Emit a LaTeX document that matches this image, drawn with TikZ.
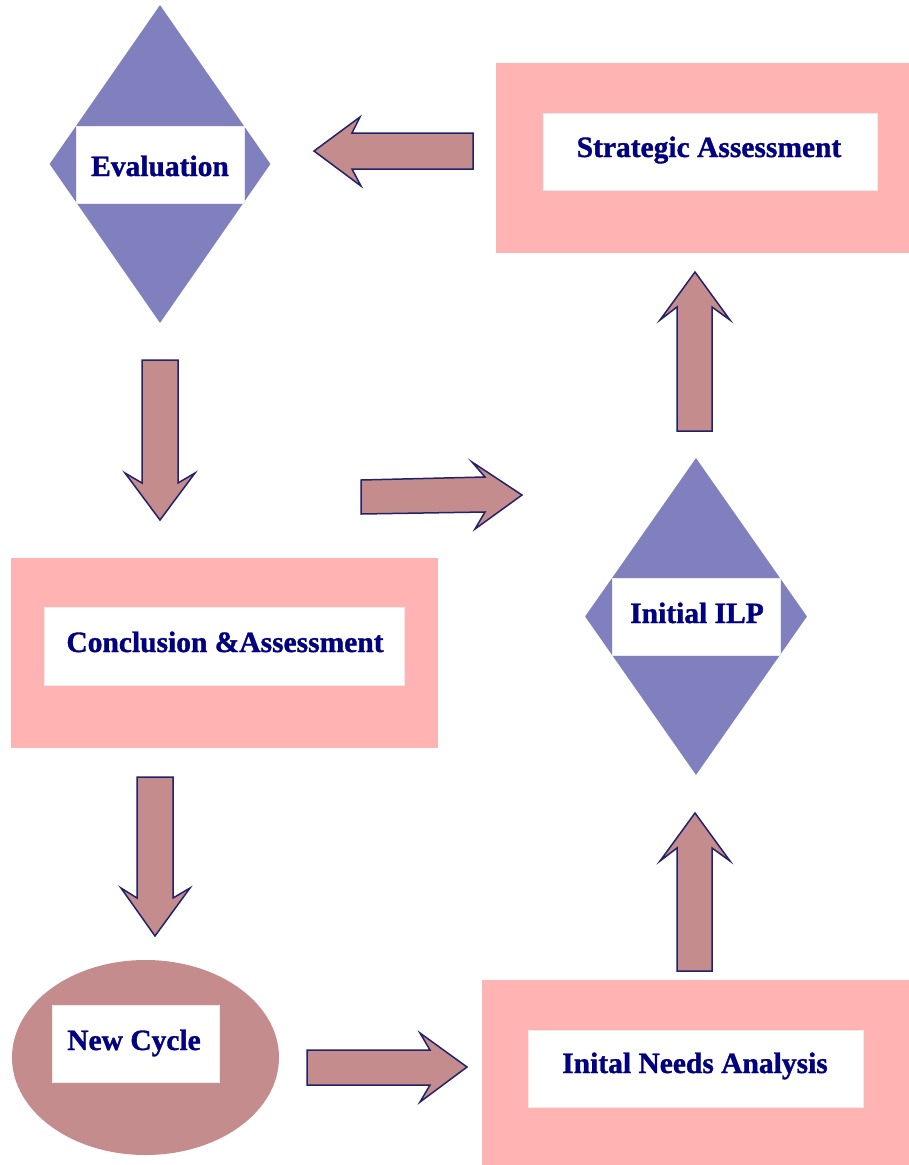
\documentclass[tikz,border=0pt]{standalone}
\usepackage{fontspec}
\setmainfont{Liberation Serif}[BoldFeatures={FakeBold=1.2}]
\usetikzlibrary{shapes.geometric}
\definecolor{pinkfill}{HTML}{FFB3B3}
\definecolor{diafill}{HTML}{8080BF}
\definecolor{arrfill}{HTML}{C48C8C}
\definecolor{arredge}{HTML}{22226A}
\definecolor{txtcol}{HTML}{000080}
\tikzset{
  pinkbox/.style={rectangle, fill=pinkfill, draw=none, inner sep=0pt},
  whitebox/.style={rectangle, fill=white, draw=black!8, line width=0.6pt, inner sep=0pt},
  diabox/.style={diamond, fill=diafill, draw=none, inner sep=0pt},
  ellbox/.style={ellipse, fill=arrfill, draw=none, inner sep=0pt},
  lbl/.style={anchor=base, inner sep=0pt, text=txtcol, font=\fontsize{29.5}{31}\selectfont\bfseries},
  blockarrow/.style={fill=arrfill, draw=arredge, line width=1.5pt, line join=miter}
}
\begin{document}
\begin{tikzpicture}[x=1pt,y=-1pt]
\useasboundingbox[fill=white] (0,0) rectangle (909,1165);
% Strategic Assessment
\node[pinkbox, minimum width=413pt, minimum height=190pt] (sa) at (702.5,158) {};
\node[whitebox, minimum width=334pt, minimum height=77pt] (saw) at (710,151.5) {};
\node[lbl] (sat) at (709,157) {Strategic Assessment};
% Evaluation
\node[diabox, minimum width=221pt, minimum height=318pt] (ev) at (160,164) {};
\node[whitebox, minimum width=168pt, minimum height=77pt] (evw) at (160,164.5) {};
\node[lbl] (evt) at (160,176) {Evaluation};
% Conclusion & Assessment
\node[pinkbox, minimum width=427pt, minimum height=190pt] (ca) at (224.5,653) {};
\node[whitebox, minimum width=360pt, minimum height=78pt] (caw) at (224,646) {};
\node[lbl] (cat) at (225,652) {Conclusion \&Assessment};
% Initial ILP
\node[diabox, minimum width=222pt, minimum height=317pt] (ilp) at (696,616.5) {};
\node[whitebox, minimum width=168pt, minimum height=77pt] (ilpw) at (696,616.5) {};
\node[lbl] (ilpt) at (697,623) {Initial ILP};
% New Cycle
\node[ellbox, minimum width=267pt, minimum height=195pt] (nc) at (145.5,1057.5) {};
\node[whitebox, minimum width=167pt, minimum height=77pt] (ncw) at (135.5,1043.5) {};
\node[lbl] (nct) at (134,1050) {New Cycle};
% Inital Needs Analysis
\node[pinkbox, minimum width=427pt, minimum height=185pt] (ina) at (695.5,1072.5) {};
\node[whitebox, minimum width=335pt, minimum height=77pt] (inaw) at (695.5,1068.5) {};
\node[lbl] (inat) at (695,1073) {Inital Needs Analysis};
% Block arrows
\draw[blockarrow] (473,133) -- (352,133) -- (360,117) -- (314,151) -- (361,186) -- (352,169) -- (473,169) -- cycle;
\draw[blockarrow] (142,360) -- (178,360) -- (178,483) -- (195,473) -- (160,520) -- (125,473) -- (142,483) -- cycle;
\draw[blockarrow] (361,480) -- (485,477) -- (472,462) -- (522,495) -- (475,529) -- (485,512) -- (361,514) -- cycle;
\draw[blockarrow] (677,431) -- (677,307) -- (660,320) -- (695,272) -- (730,320) -- (712,307) -- (712,431) -- cycle;
\draw[blockarrow] (137,777) -- (173,777) -- (173,898) -- (190,888) -- (155,936) -- (121,888) -- (137,898) -- cycle;
\draw[blockarrow] (307,1050) -- (430,1050) -- (420,1033) -- (467,1067) -- (420,1102) -- (430,1085) -- (307,1085) -- cycle;
\draw[blockarrow] (677,971) -- (677,848) -- (660,861) -- (695,813) -- (730,861) -- (712,848) -- (712,971) -- cycle;
\end{tikzpicture}
\end{document}
